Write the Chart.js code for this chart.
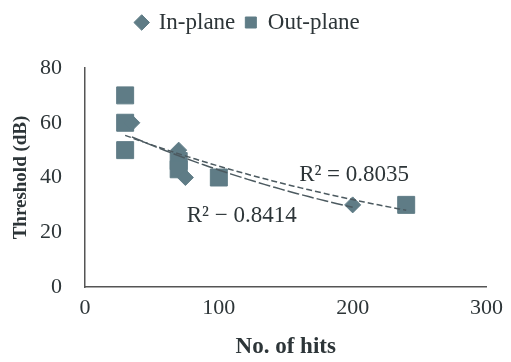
<!DOCTYPE html>
<html>
<head>
<meta charset="utf-8">
<script src="https://cdn.jsdelivr.net/npm/chart.js@4"></script>
<style>
  html, body { margin: 0; padding: 0; background: #fff; }
  #wrap { width: 511px; height: 362px; }
</style>
</head>
<body>
<div id="wrap"><canvas id="chart" width="511" height="362"></canvas></div>
<script>
// values
const inPlaneX = [35, 70, 75, 200];
const inPlaneY = [60, 50, 40, 30];
const outPlaneX = [30, 30, 30, 70, 70, 100, 240];
const outPlaneY = [70, 60, 50, 46, 43, 40, 30];
const xTicks = [0, 100, 200, 300];
const yTicks = [0, 20, 40, 60, 80];
const r2Labels = ['R² = 0.8035', 'R² − 0.8414'];

const markColor = '#5f7c86';
const lineColor = '#4c5a60';
const textColor = '#2d3538';
const serif = '"Liberation Serif", "DejaVu Serif", serif';

function toPoints(xs, ys) {
    return xs.map((x, i) => ({ x: x, y: ys[i] }));
}

// exponential trendline, fitted from the arrays above
function expTrend(xs, ys) {
    const ly = ys.map(Math.log);
    const n = xs.length;
    const mx = xs.reduce((a, b) => a + b) / n, my = ly.reduce((a, b) => a + b) / n;
    let sxy = 0, sxx = 0;
    for (let i = 0; i < n; i++) {
        sxy += (xs[i] - mx) * (ly[i] - my);
        sxx += (xs[i] - mx) * (xs[i] - mx);
    }
    const b = sxy / sxx, a = Math.exp(my - b * mx);
    const lo = Math.min(...xs), hi = Math.max(...xs);
    const pts = [];
    for (let k = 0; k <= 40; k++) {
        const x = lo + (hi - lo) * k / 40;
        pts.push({ x: x, y: a * Math.exp(b * x) });
    }
    return pts;
}

const r2Plugin = {
    id: 'r2',
    afterDatasetsDraw(chart) {
        const { ctx, scales } = chart;
        ctx.save();
        ctx.font = '23px ' + serif;
        ctx.fillStyle = textColor;
        ctx.textBaseline = 'middle';
        ctx.fillText(r2Labels[0], scales.x.getPixelForValue(160), scales.y.getPixelForValue(41));
        ctx.fillText(r2Labels[1], scales.x.getPixelForValue(76), scales.y.getPixelForValue(26));
        ctx.restore();
    }
};

new Chart(document.getElementById('chart'), {
    type: 'scatter',
    data: {
        datasets: [
            {
                label: 'In-plane',
                data: toPoints(inPlaneX, inPlaneY),
                pointStyle: 'rectRot',
                pointRadius: 8,
                backgroundColor: markColor,
                borderColor: markColor,
                order: 1
            },
            {
                label: 'Out-plane',
                data: toPoints(outPlaneX, outPlaneY),
                pointStyle: 'rect',
                pointRadius: 12,
                backgroundColor: markColor,
                borderColor: markColor,
                order: 2
            },
            {
                label: 'trend in',
                data: expTrend(inPlaneX, inPlaneY),
                type: 'line',
                showLine: true,
                pointRadius: 0,
                borderColor: lineColor,
                borderWidth: 1.5,
                borderDash: [12, 3],
                fill: false,
                order: 0
            },
            {
                label: 'trend out',
                data: expTrend(outPlaneX, outPlaneY),
                type: 'line',
                showLine: true,
                pointRadius: 0,
                borderColor: lineColor,
                borderWidth: 1.5,
                borderDash: [6, 3],
                fill: false,
                order: 0
            }
        ]
    },
    options: {
        responsive: false,
        animation: false,
        layout: { padding: { top: 1, right: 15, left: 0, bottom: 0 } },
        plugins: {
            legend: {
                position: 'top',
                weight: 2000,
                labels: {
                    filter: item => item.text.indexOf('trend') !== 0,
                    usePointStyle: true,
                    boxHeight: 11,
                    boxWidth: 11,
                    color: textColor,
                    font: { family: serif, size: 23 },
                    padding: 10
                }
            },
            // empty title used as a spacer under the legend
            title: {
                display: true,
                text: '',
                position: 'top',
                weight: 500,
                font: { size: 10 },
                padding: { top: 0, bottom: 12 }
            },
            tooltip: { enabled: false }
        },
        scales: {
            x: {
                type: 'linear',
                min: 0,
                max: 300,
                afterBuildTicks: axis => { axis.ticks = xTicks.map(v => ({ value: v })); },
                afterFit: axis => { axis.height = 75; },
                grid: { display: false, drawTicks: false },
                border: { color: '#555', width: 1.5 },
                ticks: { color: textColor, font: { family: serif, size: 22 }, padding: 8 },
                title: {
                    display: true,
                    text: 'No. of hits',
                    color: textColor,
                    font: { family: serif, size: 23, weight: 'bold' },
                    padding: { top: 0, bottom: 1 }
                }
            },
            y: {
                min: 0,
                max: 80,
                afterBuildTicks: axis => { axis.ticks = yTicks.map(v => ({ value: v })); },
                afterFit: axis => { axis.width = 85; },
                grid: { display: false, drawTicks: false },
                border: { color: '#555', width: 1.5 },
                ticks: { color: textColor, font: { family: serif, size: 22 }, padding: 23 },
                title: {
                    display: true,
                    text: 'Threshold (dB)',
                    color: textColor,
                    font: { family: serif, size: 19, weight: 'bold' },
                    padding: { top: 10, bottom: 0 }
                }
            }
        }
    },
    plugins: [r2Plugin]
});
</script>
</body>
</html>
